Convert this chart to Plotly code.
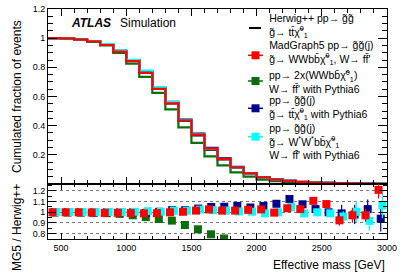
import plotly.graph_objects as go

# ---------------- data ----------------
bin_low = [400, 500, 600, 700, 800, 900, 1000, 1100, 1200, 1300, 1400, 1500, 1600,
           1700, 1800, 1900, 2000, 2100, 2200, 2300, 2400, 2500, 2600, 2700, 2800, 2900]
bin_width = 100
x_end = 3000

# cumulated fraction of events (main panel)
herwig = [1.000, 0.998, 0.990, 0.980, 0.958, 0.913, 0.849, 0.770, 0.657, 0.553, 0.435, 0.333, 0.236,
          0.169, 0.111, 0.071, 0.045, 0.030, 0.020, 0.0136, 0.009, 0.0074, 0.0065, 0.0041, 0.0021, 0.0008]
mg5 = [1.000, 0.998, 0.990, 0.978, 0.953, 0.908, 0.843, 0.762, 0.652, 0.553, 0.437, 0.338, 0.242,
       0.172, 0.113, 0.073, 0.046, 0.030, 0.021, 0.014, 0.010, 0.008, 0.006, 0.004, 0.002, 0.001]
py6_wwbb = [1.000, 0.998, 0.988, 0.975, 0.950, 0.899, 0.825, 0.735, 0.625, 0.512, 0.388, 0.282, 0.190,
            0.128, 0.080, 0.050, 0.030, 0.019, 0.012, 0.008, 0.005, 0.004, 0.003, 0.002, 0.001, 0.0005]
py6_tt = [1.000, 0.998, 0.990, 0.980, 0.958, 0.913, 0.849, 0.766, 0.660, 0.564, 0.444, 0.345, 0.248,
          0.178, 0.118, 0.074, 0.048, 0.032, 0.0225, 0.0146, 0.0093, 0.0074, 0.0064, 0.0040, 0.0022, 0.0008]
py6_wstar = [1.000, 0.998, 0.990, 0.980, 0.959, 0.915, 0.852, 0.778, 0.662, 0.561, 0.442, 0.341, 0.241,
             0.172, 0.112, 0.071, 0.0446, 0.030, 0.021, 0.0135, 0.009, 0.0073, 0.0062, 0.0041, 0.0019, 0.0009]

# ratio to Herwig++ (lower panel)
ratio_mg5 = [1.0, 1.0, 1.0, 0.998, 0.995, 0.995, 0.993, 0.99, 0.992, 1.0, 1.005, 1.016, 1.027,
             1.016, 1.016, 1.023, 1.027, 0.997, 1.038, 1.03, 1.107, 1.077, 0.925, 0.972, 0.972, 1.21]
err_mg5 = [0, 0, 0, 0, 0, 0, 0, 0, 0, 0, 0, 0, 0,
           0, 0, 0, 0, 0.004, 0.006, 0.008, 0.015, 0.015, 0.05, 0.07, 0.06, 0.08]
ratio_wwbb = [1.0, 1.0, 0.998, 0.995, 0.992, 0.985, 0.972, 0.955, 0.937, 0.922, 0.881, 0.841, 0.794,
              0.755, 0.70, 0.69, 0.66, 0.64, 0.62, 0.60, 0.58, 0.56, 0.53, 0.50, 0.48, 0.45]
ratio_tt = [1.0, 1.0, 1.0, 1.0, 1.0, 1.0, 1.0, 0.995, 1.005, 1.02, 1.02, 1.035, 1.05,
            1.052, 1.06, 1.045, 1.06, 1.08, 1.125, 1.075, 1.03, 1.0, 0.99, 0.98, 1.03, 0.94]
err_tt = [0, 0, 0, 0, 0, 0, 0, 0, 0, 0, 0, 0, 0,
          0, 0, 0, 0, 0.005, 0.008, 0.01, 0.03, 0.03, 0.08, 0.09, 0.09, 0.12]
ratio_wstar = [1.003, 1.003, 1.003, 1.003, 1.003, 1.003, 1.005, 1.01, 1.005, 1.015, 1.015, 1.025, 1.02,
               1.016, 1.008, 1.006, 0.99, 1.0, 1.05, 0.99, 1.0, 0.99, 0.96, 1.005, 0.92, 1.065]
err_wstar = [0, 0, 0, 0, 0, 0, 0, 0, 0, 0, 0, 0, 0,
             0, 0, 0, 0, 0.005, 0.008, 0.01, 0.02, 0.03, 0.05, 0.1, 0.09, 0.12]

chi = "\u03c7\u0303<sup>0</sup><sub>1</sub>"
legend_entries = [
    "Herwig++ pp\u2192 g\u0303g\u0303<br>g\u0303\u2192 tt\u0304" + chi,
    "MadGraph5 pp\u2192 g\u0303g\u0303(j)<br>g\u0303\u2192 WWbb\u0304" + chi + ", W\u2192 ff\u0304'",
    "pp\u2192 2x(WWbb\u0304" + chi + ")<br>W\u2192 ff\u0304' with Pythia6",
    "pp\u2192 g\u0303g\u0303(j)<br>g\u0303\u2192 tt\u0304" + chi + " with Pythia6",
    "pp\u2192 g\u0303g\u0303(j)<br>g\u0303\u2192 W<sup>*</sup>W<sup>*</sup>bb\u0304" + chi + "<br>W\u2192 ff\u0304' with Pythia6",
]

# ---------------- style ----------------
FONT = "Liberation Sans, Arial, sans-serif"
C_HW, C_MG, C_WW, C_TT, C_WS = "#000000", "#ff0000", "#0a6e0a", "#00008f", "#00ffff"
W, H = 407, 276
ML, MR, MT, MB = 48, 20, 9, 37
PW, PH = W - ML - MR, H - MT - MB
split = (H - MB - 184) / PH


def px_x(p):
    return (p - ML) / PW


def px_y(p):
    return (H - MB - p) / PH


edges_x = bin_low + [x_end]
centers = [b + bin_width / 2 for b in bin_low]


def steps(vals):
    return vals + [vals[-1]]


fig = go.Figure()

main_series = [
    (herwig, C_HW), (py6_wwbb, C_WW), (py6_tt, C_TT), (py6_wstar, C_WS), (mg5, C_MG),
]
for vals, col in main_series:
    fig.add_trace(go.Scatter(x=edges_x, y=steps(vals), mode="lines", line=dict(color=col, width=2.2, shape="hv"),
                             xaxis="x", yaxis="y", showlegend=False, hoverinfo="skip"))

ratio_series = [
    (ratio_wwbb, None, C_WW, 0),
    (ratio_tt, err_tt, C_TT, 2),
    (ratio_wstar, err_wstar, C_WS, 15),
    (ratio_mg5, err_mg5, C_MG, -15),
]
for vals, errs, col, shift in ratio_series:
    tr = dict(x=[c + shift for c in centers], y=vals, mode="markers",
              marker=dict(symbol="square", size=8, color=col, line=dict(width=0)),
              xaxis="x2", yaxis="y2", showlegend=False, hoverinfo="skip")
    if errs is not None:
        tr["error_y"] = dict(type="data", array=errs, visible=True, color=col, thickness=1.2, width=0)
    fig.add_trace(go.Scatter(**tr))

axis_common = dict(showline=True, linecolor="black", linewidth=1, mirror="allticks", ticks="inside",
                   tickcolor="black", zeroline=False, automargin=False,
                   tickfont=dict(family=FONT, size=9, color="black"))

fig.update_layout(
    width=W, height=H, margin=dict(l=ML, r=MR, t=MT, b=MB, autoexpand=False),
    paper_bgcolor="white", plot_bgcolor="white",
    font=dict(family=FONT, color="black"),
    xaxis=dict(domain=[0, 1], range=[400, 3000], anchor="y", showticklabels=False, showgrid=False,
               tickvals=[500, 1000, 1500, 2000, 2500, 3000], ticklen=7,
               minor=dict(dtick=100, tick0=0, ticklen=4, ticks="inside", tickcolor="black"), **axis_common),
    yaxis=dict(domain=[split, 1], range=[0, 1.2], anchor="x", showgrid=False,
               tickvals=[0.2, 0.4, 0.6, 0.8, 1.0, 1.2], ticktext=["0.2", "0.4", "0.6", "0.8", "1", "1.2"],
               ticklen=9, minor=dict(dtick=0.05, tick0=0, ticklen=5, ticks="inside", tickcolor="black"),
               **axis_common),
    xaxis2=dict(domain=[0, 1], range=[400, 3000], anchor="y2", showgrid=False,
                tickvals=[500, 1000, 1500, 2000, 2500, 3000], ticklen=6,
                minor=dict(dtick=100, tick0=0, ticklen=3, ticks="inside", tickcolor="black"), **axis_common),
    yaxis2=dict(domain=[0, split], range=[0.75, 1.265], anchor="x2",
                tickvals=[0.8, 0.9, 1.0, 1.1, 1.2], ticktext=["0.8", "0.9", "1", "1.1", "1.2"],
                ticklen=8, minor=dict(dtick=0.05, tick0=0, ticklen=4, ticks="inside", tickcolor="black"),
                showgrid=True, gridcolor="#777777", griddash="dot", gridwidth=1, **axis_common),
)

ann = []
ann.append(dict(text="Cumulated fraction of events", x=px_x(17), y=px_y(97), textangle=-90,
                font=dict(size=12, family=FONT)))
ann.append(dict(text="MG5 / Herwig++", x=px_x(17), y=px_y(228), textangle=-90,
                font=dict(size=12, family=FONT)))
ann.append(dict(text="Effective mass [GeV]", x=px_x(387), y=px_y(265), xanchor="right",
                font=dict(size=12, family=FONT)))
ann.append(dict(text="<b><i>ATLAS</i></b>", x=px_x(69), y=px_y(23), xanchor="left",
                font=dict(size=12, family=FONT)))
ann.append(dict(text="Simulation", x=px_x(118), y=px_y(23), xanchor="left",
                font=dict(size=12, family=FONT)))
entry_y = [25.5, 53.4, 81.1, 108.4, 141]
for t, yy in zip(legend_entries, entry_y):
    ann.append(dict(text=t, x=px_x(267), y=px_y(yy), xanchor="left", align="left",
                    font=dict(size=10.5, family=FONT)))
for a in ann:
    a.update(xref="paper", yref="paper", showarrow=False)
    a.setdefault("xanchor", "center")
    a.setdefault("yanchor", "middle")
fig.update_layout(annotations=ann)

shapes = []
# legend keys
shapes.append(dict(type="line", x0=px_x(249), x1=px_x(261), y0=px_y(28), y1=px_y(28),
                   line=dict(color=C_HW, width=2)))
for col, yy in [(C_MG, 55.3), (C_WW, 81), (C_TT, 108.3), (C_WS, 136.7)]:
    shapes.append(dict(type="line", x0=px_x(248), x1=px_x(263), y0=px_y(yy), y1=px_y(yy),
                       line=dict(color=col, width=1.5)))
    shapes.append(dict(type="rect", x0=px_x(251.5), x1=px_x(259.5), y0=px_y(yy - 4), y1=px_y(yy + 4),
                       fillcolor=col, line=dict(width=0)))
for s in shapes:
    s.update(xref="paper", yref="paper")
fig.update_layout(shapes=shapes)

fig.write_html("out.html", config={"displayModeBar": False, "staticPlot": True},
               post_script="document.body.style.margin='0';document.body.style.overflow='hidden';")
